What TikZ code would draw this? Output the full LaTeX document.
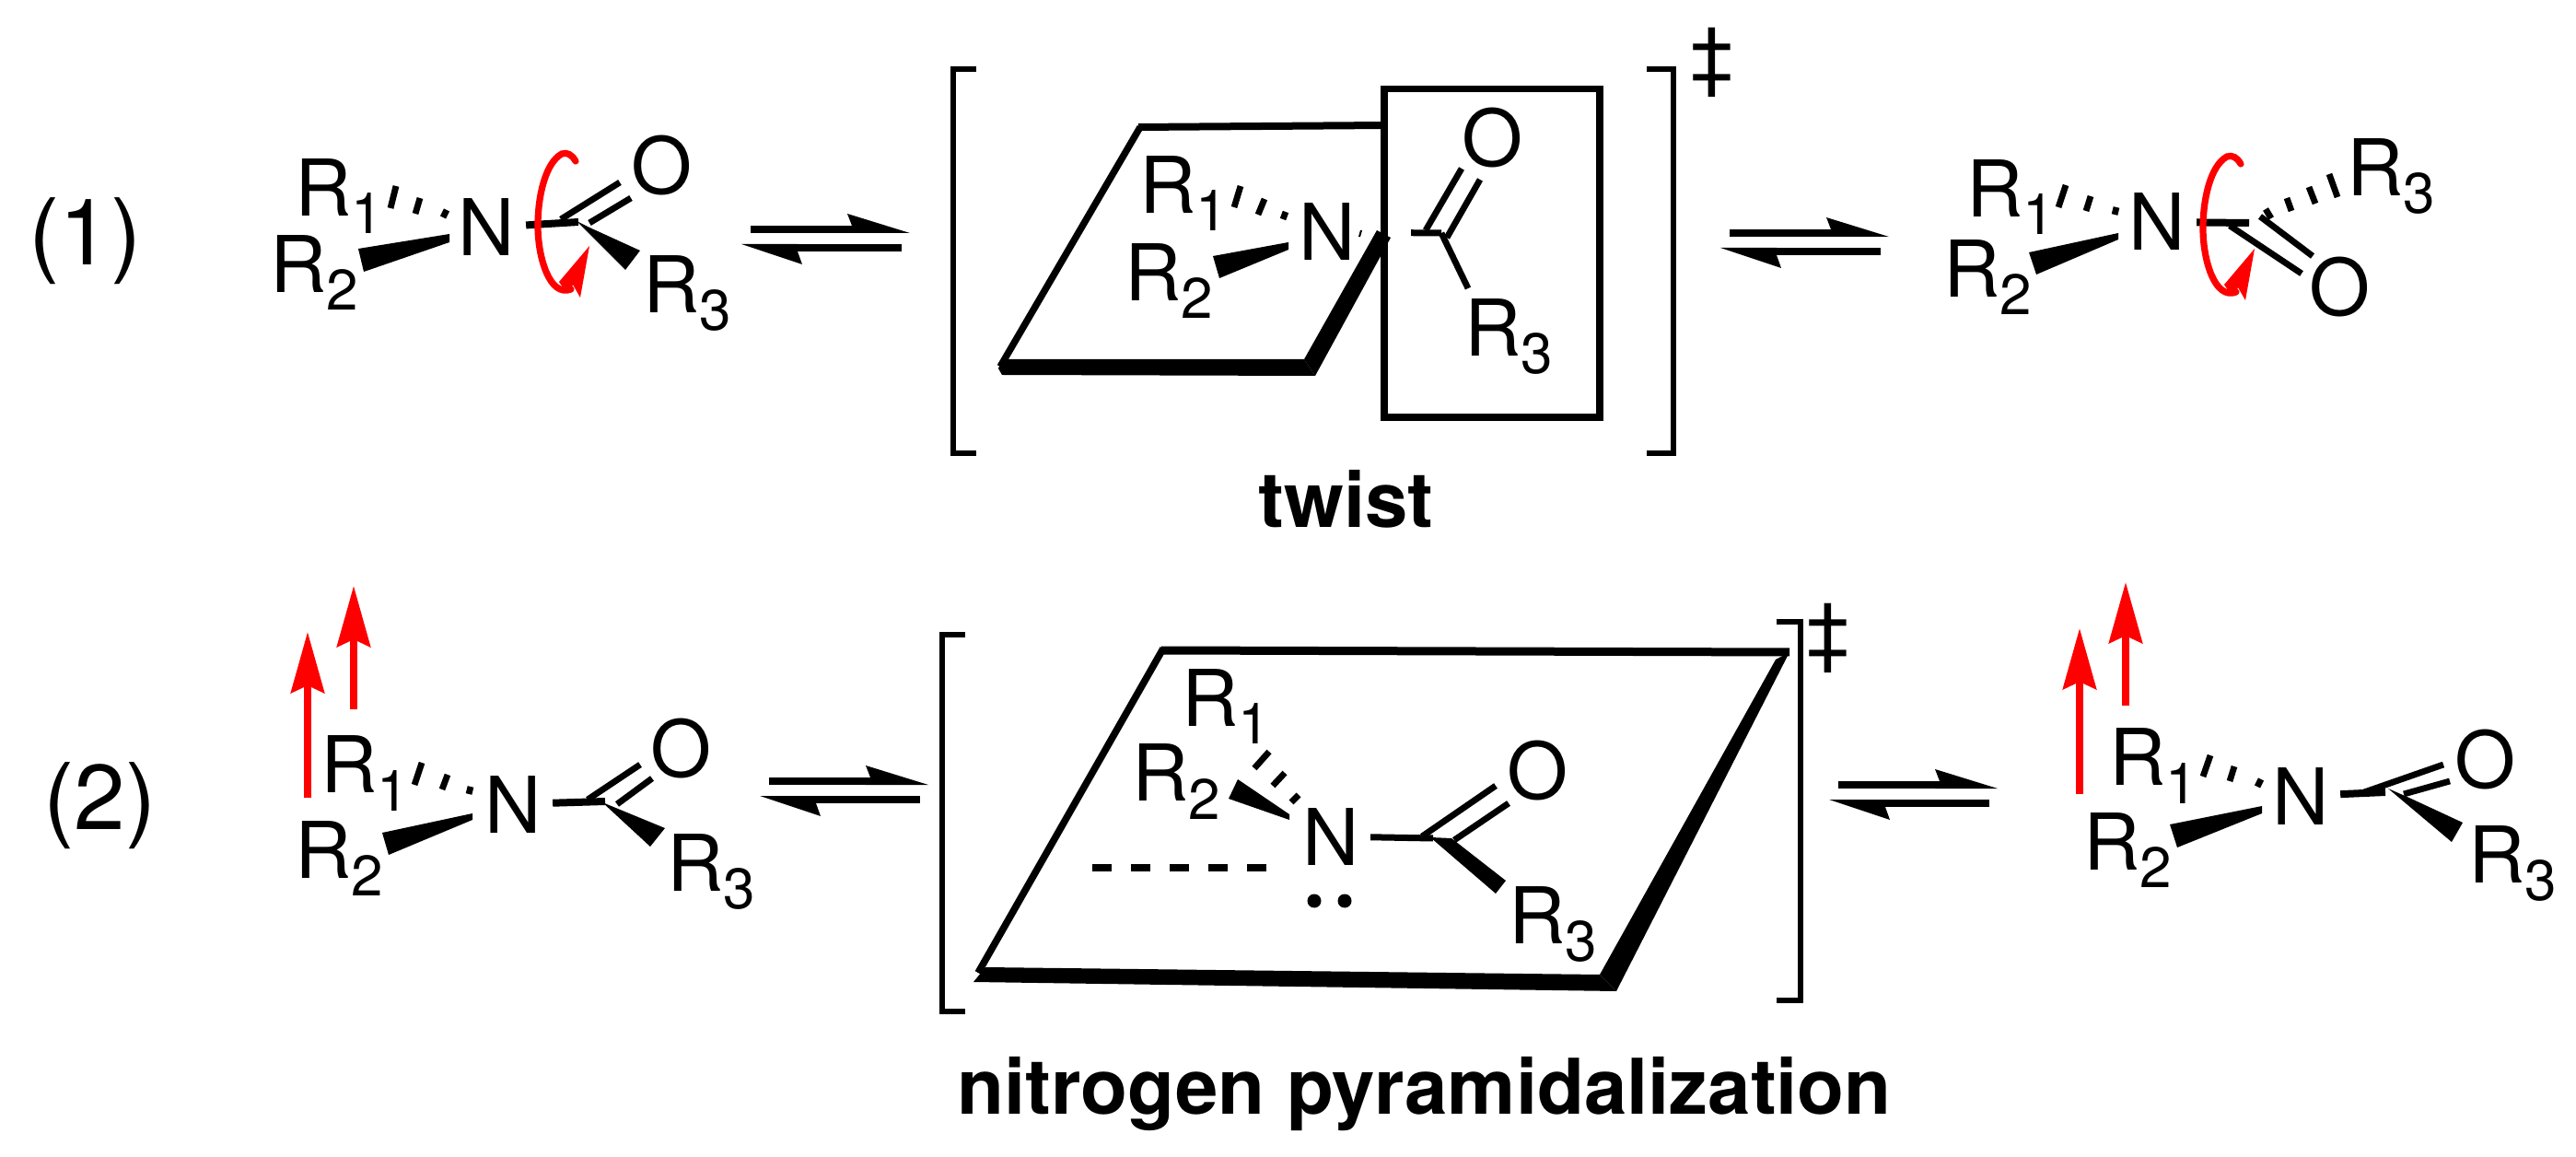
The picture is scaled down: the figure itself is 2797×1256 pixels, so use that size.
\documentclass[tikz,border=0pt]{standalone}
\usepackage{fontspec}
\setmainfont{TeX Gyre Heros}
\usetikzlibrary{calc,arrows.meta}
\definecolor{arrowred}{RGB}{255,0,0}
\tikzset{
  atom/.style     = {inner sep=0pt, anchor=base west, font=\fontsize{42.5}{50}\selectfont},
  numlabel/.style = {inner sep=0pt, anchor=base west, font=\fontsize{50}{60}\selectfont},
  tslabel/.style  = {inner sep=0pt, anchor=base west, font=\fontsize{41.7}{50}\selectfont\bfseries},
  ddag/.style     = {inner sep=0pt, anchor=base, font=\fontsize{42.5}{50}\selectfont},
  bond/.style     = {line width=3.4pt},
  nbond/.style    = {line width=4pt},
  wedge/.style    = {fill=black},
  hashd/.style    = {line width=3.4pt},
  brack/.style    = {line width=3pt},
  plane/.style    = {line width=3.7pt},
  lift/.style     = {draw=arrowred, line width=4pt, -{Stealth[length=33pt,width=18pt,inset=4pt]}},
}
\newcommand{\Rs}[1]{R\raisebox{-9.5pt}{\fontsize{31}{31}\selectfont #1}}
\newcommand{\DrawHash}[1]{%
  \foreach \xa/\ya/\xb/\yb in {#1}{\draw[hashd] (\xa,\ya) -- (\xb,\yb);}%
}
\newcommand{\DrawEquil}[1]{%
  \begin{scope}[shift={#1}]
    % upper half arrow
    \draw[nbond] (0,0) -- (147,0);
    \fill (105,-17) -- (173,4) -- (105,4) -- (110,-4) -- cycle;
    % lower half arrow
    \draw[nbond] (14,20) -- (164,20);
    \fill (-10,16) -- (51,16) -- (51,24) -- (56,38) -- cycle;
  \end{scope}%
}
\newcommand{\DrawRot}[1]{%
  \begin{scope}[shift={#1}]
    \draw[arrowred, line width=3.6pt, line cap=round] (0,0) .. controls (-4,-7) and (-9,-10) .. (-15,-8)
      .. controls (-33,2) and (-41,38) .. (-41,70)
      .. controls (-41,105) and (-28,148) .. (-5,139);
    \fill[arrowred] (15,92) -- (-18,131) -- (-10,143) -- (-5,139) -- (-3,134) -- (5,148) -- cycle;
  \end{scope}%
}
\begin{document}
\begin{tikzpicture}[x=0.5pt,y=-0.5pt]
  \useasboundingbox (0,0) rectangle (2797,1256);

  \node[numlabel] (num1) at (31,288) {(1)};
  \node[numlabel] (num2) at (47,900) {(2)};

  % reactant, row 1
  \node[atom] (r1a) at (320,235) {\Rs{1}};
  \node[atom] (r2a) at (293,318) {\Rs{2}};
  \node[atom] (na)  at (497,278) {N};
  \node[atom] (oa)  at (685,211) {O};
  \node[atom] (r3a) at (698,340) {\Rs{3}};
  \coordinate (ca) at (628,241);
  \draw[nbond,shorten <=6pt] (na) -- (ca);
  \draw[bond] (609,238) -- (673,198);
  \draw[bond] (640,242) -- (685,215);
  \fill[wedge] (626,240) -- (638,246) -- (695,272) -- (679,293) -- cycle;
  \fill[wedge] (488,254) -- (488,263) -- (395,295) -- (389,270) -- cycle;
  \DrawHash{430/202/424/226,456/215/451/232,485/228/481/236}
  \DrawRot{(625,175)}
  \DrawEquil{(815,249)}

  % twist transition state
  \draw[brack] (1060,75) -- (1035,75) -- (1035,492) -- (1060,492);
  \draw[brack] (1788,75) -- (1817,75) -- (1817,492) -- (1788,492);
  \node[ddag] (dg1) at (1859,91) {‡};
  \draw[plane] (1086,398) -- (1238,138);
  \draw[plane,line width=4pt] (1236,138) -- (1505,136);
  \fill[wedge] (1088,390) -- (1416,390) -- (1428,408) -- (1088,407) -- (1084,400) -- cycle;
  \fill[wedge] (1495,250) -- (1510,258) -- (1428,408) -- (1416,390) -- cycle;
  \draw[plane] (1503,96.5) rectangle (1737,453);
  \node[atom] (r1b) at (1237,232) {\Rs{1}};
  \node[atom] (r2b) at (1221,327) {\Rs{2}};
  \node[atom] (nb)  at (1410,283) {N};
  \node[atom] (ob)  at (1587,181) {O};
  \node[atom] (r3b) at (1590,387) {\Rs{3}};
  \coordinate (cb) at (1565,253);
  \draw[nbond,line width=3.5pt,shorten <=30pt] (nb) -- (cb);
  \draw[bond] (cb) -- (1594,313);
  \draw[bond] (1548,250) -- (1587,183);
  \draw[bond] (1571,258) -- (1607,195);
  \fill[wedge] (1399,263) -- (1399,271) -- (1324,302) -- (1317,278) -- cycle;
  \DrawHash{1347/202/1340/225,1373/216/1366/233,1396/230/1393/238}
  \draw[line width=1pt] (1478,250) -- (1476,257);
  \node[tslabel] (twist) at (1366,573) {twist};
  \DrawEquil{(1878,253)}

  % product, row 1
  \node[atom] (r1c) at (2135,236) {\Rs{1}};
  \node[atom] (r2c) at (2110,323) {\Rs{2}};
  \node[atom] (nc)  at (2311,272) {N};
  \node[atom] (oc)  at (2507,343) {O};
  \node[atom] (r3c) at (2548,213) {\Rs{3}};
  \coordinate (cc) at (2442,242);
  \draw[nbond,shorten <=6pt] (nc) -- (cc);
  \draw[bond] (2421,245) -- (2499,297);
  \draw[bond] (2454,235) -- (2511,278);
  \fill[wedge] (2300,253) -- (2300,260) -- (2211,298) -- (2203,274) -- cycle;
  \DrawHash{2243/201/2235/225,2270/213/2265/229,2298/225/2296/233}
  \DrawHash{2460/227/2466/237,2483/215/2488/229,2507/203/2514/221,2529/189/2538/214}
  \DrawRot{(2433,178)}

  % reactant, row 2
  \draw[lift] (334,866) -- (334,686);
  \draw[lift] (384,770) -- (384,636);
  \node[atom] (r1d) at (348,861) {\Rs{1}};
  \node[atom] (r2d) at (320,953) {\Rs{2}};
  \node[atom] (nd)  at (526,904) {N};
  \node[atom] (od)  at (706,843) {O};
  \node[atom] (r3d) at (724,967) {\Rs{3}};
  \coordinate (cd) at (657,870);
  \draw[nbond,shorten <=6pt] (nd) -- (cd);
  \draw[bond] (638,868) -- (695,830);
  \draw[bond] (670,873) -- (708,845);
  \fill[wedge] (654,871) -- (722,899) -- (706,919) -- cycle;
  \fill[wedge] (513,883) -- (513,890) -- (422,928) -- (415,904) -- cycle;
  \DrawHash{458/828/450/852,486/841/480/857,511/854/509/862}
  \DrawEquil{(835,848)}

  % pyramidalization transition state
  \draw[brack] (1048,689) -- (1023,689) -- (1023,1098) -- (1048,1098);
  \draw[brack] (1929,675) -- (1955,675) -- (1955,1086) -- (1929,1086);
  \node[ddag] (dg2) at (1985,716) {‡};
  \draw[line width=3.8pt] (1062,1056) -- (1263,704);
  \draw[plane,line width=4.5pt] (1261,706) -- (1943,708);
  \fill[wedge] (1070,1050) -- (1737,1058) -- (1755,1076) -- (1057,1066) -- cycle;
  \fill[wedge] (1928,716) -- (1943,708) -- (1755,1076) -- (1737,1058) -- cycle;
  \node[atom] (r1e) at (1283,789) {\Rs{1}};
  \node[atom] (r2e) at (1229,870) {\Rs{2}};
  \node[atom] (ne)  at (1414,939) {N};
  \node[atom] (oe)  at (1636,868) {O};
  \node[atom] (r3e) at (1638,1024) {\Rs{3}};
  \coordinate (ce) at (1556,910);
  \draw[nbond,line width=3.5pt,shorten <=6pt] (ne) -- (ce);
  \draw[bond] (1544,908) -- (1624,853);
  \draw[bond] (1579,912) -- (1638,872);
  \fill[wedge] (1553,909) -- (1576,910) -- (1635,956) -- (1624,970) -- cycle;
  \fill[wedge] (1400,884) -- (1400,890) -- (1334,867) -- (1344,846) -- cycle;
  \DrawHash{1378/816/1362/834,1395/839/1382/853,1410/863/1402/871}
  \draw[line width=4pt,dash pattern=on 10.5pt off 10.5pt] (1186,942) -- (1375,942);
  \fill (1427,978) circle (7.5);
  \fill (1460,978) circle (7.5);
  \node[tslabel] (pyra) at (1039,1209) {nitrogen pyramidalization};
  \DrawEquil{(1996,852)}

  % product, row 2
  \draw[lift] (2258,862) -- (2258,682);
  \draw[lift] (2308,766) -- (2308,632);
  \node[atom] (r1f) at (2290,853) {\Rs{1}};
  \node[atom] (r2f) at (2262,944) {\Rs{2}};
  \node[atom] (nf)  at (2467,895) {N};
  \node[atom] (of)  at (2665,856) {O};
  \node[atom] (r3f) at (2680,958) {\Rs{3}};
  \coordinate (cf) at (2590,860);
  \draw[nbond,shorten <=6pt] (nf) -- (cf);
  \draw[bond] (2567,860) -- (2653,830);
  \draw[bond] (2610,862) -- (2660,848);
  \fill[wedge] (2593,856) -- (2618,867) -- (2674,893) -- (2662,914) -- cycle;
  \fill[wedge] (2456,875) -- (2456,883) -- (2364,920) -- (2356,895) -- cycle;
  \DrawHash{2400/820/2392/843,2426/832/2421/848,2455/846/2451/854}
\end{tikzpicture}
\end{document}
